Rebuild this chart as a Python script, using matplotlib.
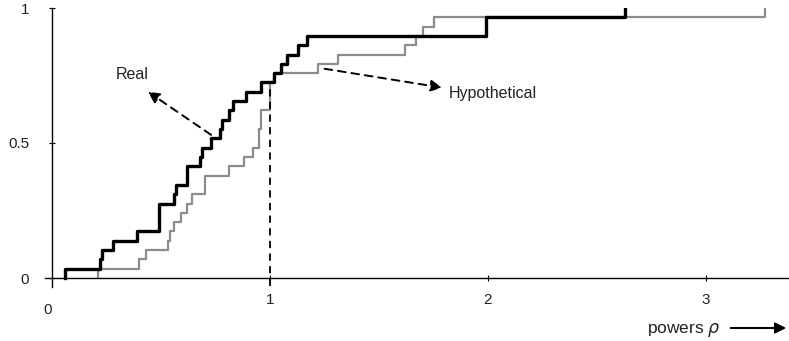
import numpy as np
import matplotlib
matplotlib.use("Agg")
import matplotlib.pyplot as plt

plt.rcParams["font.family"] = ["Liberation Sans", "DejaVu Sans"]

real_powers = [0.06, 0.22, 0.23, 0.28, 0.39, 0.49, 0.49, 0.49, 0.56, 0.57,
               0.62, 0.62, 0.68, 0.69, 0.73, 0.77, 0.78, 0.81, 0.83, 0.89,
               0.96, 1.02, 1.05, 1.08, 1.13, 1.17, 1.99, 1.99, 2.63]
hypo_powers = [0.21, 0.40, 0.43, 0.53, 0.54, 0.56, 0.59, 0.62, 0.64, 0.70,
               0.70, 0.81, 0.88, 0.92, 0.95, 0.95, 0.96, 0.96, 1.00, 1.00,
               1.00, 1.02, 1.22, 1.31, 1.62, 1.67, 1.70, 1.75, 3.27]
x_ticks = [1, 2, 3]
y_ticks = [0, 0.5, 1]
y_tick_labels = ["0", "0.5", "1"]
marker_x = 1.0

TEXT = "#222222"


def ecdf(values):
    vals = np.sort(np.asarray(values))
    xs, counts = np.unique(vals, return_counts=True)
    ys = np.cumsum(counts) / len(vals)
    return np.r_[xs[0], xs], np.r_[0.0, ys]


fig = plt.figure(figsize=(7.89, 3.41), dpi=100)
# axes box: x from px 45 to 789, y from px 8 to 287
ax = fig.add_axes([45 / 789, 1 - 287 / 341, 744 / 789, 279 / 341])
ax.set_xlim(-7 / 218, 737 / 218)
ax.set_ylim(-9 / 270, 1.0)

hx, hy = ecdf(hypo_powers)
ax.step(hx, hy, where="post", color="#8c8c8c", lw=1.6, zorder=2)
rx, ry = ecdf(real_powers)
ax.step(rx, ry, where="post", color="black", lw=2.4, zorder=3)

# dashed marker at rho = 1 up to the real curve
level = np.searchsorted(np.sort(real_powers), marker_x, side="right") / len(real_powers)
ax.plot([marker_x, marker_x], [-0.03, level], color="black", lw=1.3,
        ls=(0, (4, 3)), zorder=4)

# spines through the origin
for s in ["top", "right"]:
    ax.spines[s].set_visible(False)
ax.spines["left"].set_position(("data", 0))
ax.spines["bottom"].set_position(("data", 0))
ax.spines["left"].set_linewidth(1.0)
ax.spines["bottom"].set_linewidth(1.0)

ax.set_xticks(x_ticks)
ax.set_xticklabels([str(t) for t in x_ticks])
ax.set_yticks(y_ticks)
ax.set_yticklabels(y_tick_labels)
ax.tick_params(axis="x", direction="inout", length=5, width=0.8, pad=8,
               labelsize=11, labelcolor=TEXT)
ax.tick_params(axis="y", direction="inout", length=5, width=0.8, pad=14,
               labelsize=11, labelcolor=TEXT)
ax.text(-0.02, -0.118, "0", transform=ax.transData, ha="center", va="center",
        fontsize=11, color=TEXT, clip_on=False)

arrow_kw = dict(arrowstyle="-|>", color="black", lw=1.4, ls=(0, (4, 3)),
                mutation_scale=17, shrinkA=0, shrinkB=0)
ax.annotate("", xy=(0.44, 0.69), xytext=(0.73, 0.53), arrowprops=arrow_kw)
ax.annotate("", xy=(1.79, 0.705), xytext=(1.25, 0.775), arrowprops=arrow_kw)
ax.text(0.37, 0.755, "Real", ha="center", va="center", fontsize=11.5, color=TEXT)
ax.text(1.82, 0.685, "Hypothetical", ha="left", va="center", fontsize=11.5,
        color=TEXT)

fig.text(721 / 789, 1 - 330 / 341, r"powers $\rho$", ha="right", va="center",
         fontsize=12.5, color=TEXT)
fig.add_artist(matplotlib.patches.FancyArrowPatch(
    (728 / 789, 1 - 328 / 341), (789 / 789, 1 - 328 / 341),
    transform=fig.transFigure, arrowstyle="-|>", mutation_scale=16,
    color="black", lw=1.5))

fig.savefig("out.png", dpi=100)
